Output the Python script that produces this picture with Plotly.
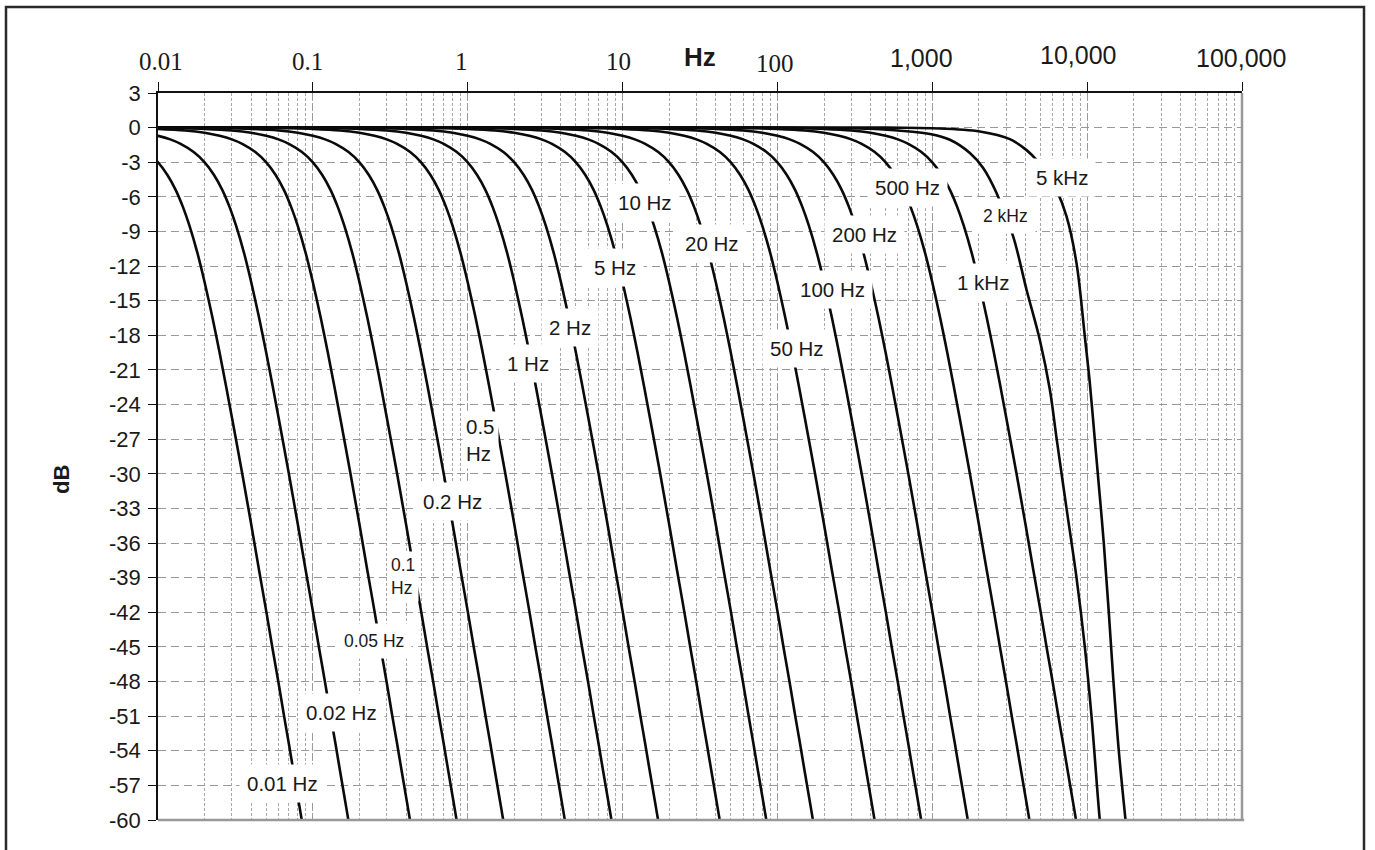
import math
import plotly.graph_objects as go

# ---------------- data ----------------
# cut-off frequencies of the curves that share the common (4-pole) roll-off shape
cutoffs_hz = [0.01, 0.02, 0.05, 0.1, 0.2, 0.5, 1, 2, 5, 10, 20, 50, 100, 200, 500, 1000]

# common roll-off shape: frequency / cut-off  ->  attenuation in dB
shape_ratio = [1e-7, 0.05, 0.1, 0.15, 0.2, 0.3, 0.4, 0.5, 0.6, 0.7, 0.85, 1.0, 1.15, 1.3,
               1.45, 1.6, 1.8, 2.0, 2.25, 2.5, 2.75, 3.0, 3.5, 4.0, 4.5, 5.0, 5.5, 6.0,
               6.5, 7.0, 7.5, 8.0, 8.5, 9.0, 10.0]
shape_db = [0.0, -0.01, -0.03, -0.06, -0.11, -0.25, -0.45, -0.71, -1.02, -1.41, -2.12, -3.01,
            -4.10, -5.39, -6.89, -8.54, -10.9, -13.4, -16.5, -19.5, -22.4, -25.1, -30.0,
            -34.4, -38.4, -41.9, -45.2, -48.1, -50.9, -53.4, -55.8, -58.0, -60.1, -62.1, -65.7]

# 2 kHz curve (steeper at the bottom)
f_2k = [0.001, 100, 400, 600, 965, 1299, 1749, 2131, 2600, 3328, 4061, 4949, 5741, 6374,
        7360, 8537, 9660, 10670, 12070, 13000]
db_2k = [0.0, 0.0, -0.1, -0.25, -0.55, -1.05, -2.2, -3.5, -5.67, -9.43, -14.05, -18.4,
         -22.7, -27.1, -33.0, -39.0, -45.0, -51.0, -60.0, -64.0]

# 5 kHz curve
f_5k = [0.001, 500, 1000, 2028, 3170, 4061, 4710, 5500, 6340, 7360, 8537, 9660, 10400,
        11210, 11720, 12810, 13800, 14790, 16010, 17690, 19000]
db_5k = [0.0, 0.0, -0.05, -0.33, -1.0, -1.95, -2.8, -4.0, -5.4, -7.7, -11.74, -18.1,
         -22.1, -27.06, -30.0, -36.0, -42.0, -48.0, -54.0, -60.0, -64.0]

# axis ticks
x_tick_hz = [0.01, 0.1, 1, 10, 100, 1000, 10000, 100000]
x_tick_text = ["0.01", "0.1", "1", "10", "100", "1,000", "10,000", "100,000"]
y_tick_db = [3, 0, -3, -6, -9, -12, -15, -18, -21, -24, -27, -30, -33, -36, -39, -42,
             -45, -48, -51, -54, -57, -60]
y_tick_text = ["3", "0", "-3", "-6", "-9", "-12", "-15", "-18", "-21", "-24", "-27", "-30",
               "-33", "-36", "-39", "-42", "-45", "-48", "-51", "-54", "-57", "-60"]

# curve labels
label_text = ["0.01 Hz", "0.02 Hz", "0.05 Hz", "0.1<br>Hz", "0.2 Hz", "0.5<br>Hz", "1 Hz",
              "2 Hz", "5 Hz", "10 Hz", "20 Hz", "50 Hz", "100 Hz", "200 Hz", "500 Hz",
              "1 kHz", "2 kHz", "5 kHz"]

# ---------------- figure ----------------
SANS = "Liberation Sans, Arial, sans-serif"
SERIF = "Liberation Serif, Times New Roman, serif"
LINE = dict(color="#0a0a0a", width=2.6)

fig = go.Figure()
for fc in cutoffs_hz:
    fig.add_trace(go.Scatter(x=[fc * r for r in shape_ratio], y=shape_db, mode="lines",
                             line=dict(shape="spline", smoothing=0.8, **LINE),
                             hoverinfo="skip", showlegend=False))
fig.add_trace(go.Scatter(x=f_2k, y=db_2k, mode="lines",
                         line=dict(shape="spline", smoothing=1.0, **LINE),
                         hoverinfo="skip", showlegend=False))
fig.add_trace(go.Scatter(x=f_5k, y=db_5k, mode="lines",
                         line=dict(shape="spline", smoothing=1.0, **LINE),
                         hoverinfo="skip", showlegend=False))

# label placement (log10 Hz, dB), and style
label_pos = [(-1.198, -56.8), (-0.817, -50.7), (-0.604, -44.5), (-0.522, -38.9),
             (-0.100, -32.4), (-0.036, -27.1), (0.390, -20.4), (0.661, -17.3),
             (0.951, -12.1), (1.145, -6.5), (1.577, -10.0), (2.126, -19.1),
             (2.358, -14.05), (2.565, -9.3), (2.843, -5.2), (3.327, -13.4),
             (3.475, -7.7), (3.836, -4.3)]
small = {"0.05 Hz", "0.1<br>Hz", "2 kHz"}
annotations = []
for txt, (lx, ly) in zip(label_text, label_pos):
    two_line = "<br>" in txt
    annotations.append(dict(
        x=lx, y=ly, xref="x", yref="y", text=txt, showarrow=False,
        xanchor="left" if two_line else "center", yanchor="middle", align="left",
        font=dict(family=SANS, size=17.5 if txt in small else 20.5, color="#1a1a1a"),
        bgcolor="white", borderpad=7 if not two_line else 3))

# top tick labels (serif for the small values, sans for the thousands)
tick_shift = [3, -5, -6, -4, -2, -11, -9, -1]
tick_ypx = [62, 62, 62, 62, 63, 57.5, 55.5, 57.5]
L, R, T, B = 158, 133, 93, 30
W, H = 1375, 850
ph = H - T - B
pw = W - L - R
for i, (hz, txt) in enumerate(zip(x_tick_hz, x_tick_text)):
    annotations.append(dict(
        x=math.log10(hz), y=(H - B - tick_ypx[i]) / ph, xref="x", yref="paper",
        text=txt, showarrow=False, xanchor="center", yanchor="middle",
        xshift=tick_shift[i],
        font=dict(family=SERIF if i < 5 else SANS, size=25, color="#1a1a1a")))

annotations.append(dict(x=1.5, y=(H - B - 57) / ph, xref="x", yref="paper",
                        text="<b>Hz</b>", showarrow=False, xanchor="center",
                        yanchor="middle", xshift=0,
                        font=dict(family=SANS, size=26, color="#1a1a1a")))
annotations.append(dict(x=(62 - L) / pw, y=(H - B - 480) / ph, xref="paper", yref="paper",
                        text="<b>dB</b>", showarrow=False, textangle=-90,
                        xanchor="center", yanchor="middle",
                        font=dict(family=SANS, size=22, color="#1a1a1a")))

shapes = [
    # grey bottom and right borders of the plot area
    dict(type="line", xref="paper", yref="paper", x0=0, x1=1.002, y0=0, y1=0,
         line=dict(color="#999999", width=2.5)),
    dict(type="line", xref="paper", yref="paper", x0=1, x1=1, y0=0, y1=1,
         line=dict(color="#999999", width=2.5)),
    # outer frame
    dict(type="rect", xref="paper", yref="paper",
         x0=(6 - L) / pw, x1=(1364 - L) / pw,
         y0=(H - B - 860) / ph, y1=(H - B - 7) / ph,
         line=dict(color="#2a2a2a", width=2.5), fillcolor="rgba(0,0,0,0)"),
]

fig.update_layout(
    width=W, height=H,
    margin=dict(l=L, r=R, t=T, b=B, pad=0),
    paper_bgcolor="white", plot_bgcolor="white",
    showlegend=False,
    annotations=annotations,
    shapes=shapes,
    xaxis=dict(type="log", range=[-2, 5], side="top",
               tickvals=x_tick_hz, showticklabels=False,
               ticks="outside", ticklen=9, tickwidth=1.3, tickcolor="#111111",
               showline=True, linecolor="#111111", linewidth=1.6,
               showgrid=True, gridcolor="#9a9a9a", gridwidth=1.1, griddash="7px,3px",
               minor=dict(dtick="D1", showgrid=True, gridcolor="#a8a8a8", gridwidth=1,
                          griddash="3px,2px", ticks=""),
               zeroline=False, fixedrange=True),
    yaxis=dict(range=[-60, 3], tickvals=y_tick_db, ticktext=y_tick_text,
               ticks="outside", ticklen=8, tickwidth=1.3, tickcolor="#111111",
               showline=True, linecolor="#111111", linewidth=1.6,
               showgrid=True, gridcolor="#999999", gridwidth=1.3, griddash="8px,5px",
               zeroline=False, ticklabelstandoff=3,
               tickfont=dict(family=SANS, size=22, color="#1a1a1a"), fixedrange=True),
)

fig.write_html("out.html",
               config={"displayModeBar": False},
               post_script="document.body.style.margin='0px';"
                           "document.body.style.overflow='hidden';")
